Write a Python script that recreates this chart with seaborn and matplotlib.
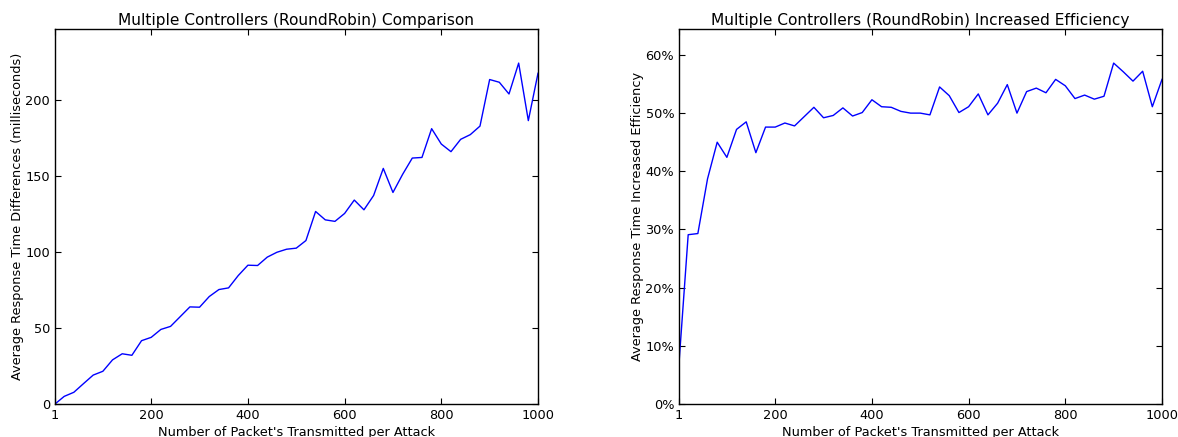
import numpy as np
import pandas as pd
import matplotlib
matplotlib.use("Agg")
import matplotlib.pyplot as plt
from matplotlib.ticker import FuncFormatter
import seaborn as sns

packets = [1] + list(range(20, 1001, 20))

diff_ms = [0.0, 5.0, 7.7, 13.4, 19.0, 21.5, 29.0, 33.0, 32.0, 41.6,
           43.8, 49.0, 51.0, 57.4, 63.8, 63.6, 70.6, 75.2, 76.3, 84.4,
           91.2, 91.0, 96.5, 99.7, 101.7, 102.4, 107.4, 126.5, 121.0, 120.0,
           125.2, 134.0, 127.6, 137.0, 154.8, 139.0, 150.9, 161.6, 162.0, 180.9,
           170.8, 165.8, 173.9, 177.0, 182.6, 213.2, 211.4, 203.7, 224.0, 186.2,
           217.3]

efficiency_pct = [7.0, 29.1, 29.3, 38.7, 45.0, 42.4, 47.2, 48.5, 43.2, 47.6,
                  47.6, 48.3, 47.8, 49.4, 51.0, 49.2, 49.6, 50.9, 49.5, 50.1,
                  52.3, 51.1, 51.0, 50.3, 50.0, 50.0, 49.7, 54.5, 53.0, 50.1,
                  51.1, 53.3, 49.7, 51.7, 54.9, 50.0, 53.7, 54.3, 53.5, 55.8,
                  54.7, 52.5, 53.1, 52.4, 52.9, 58.6, 57.1, 55.5, 57.2, 51.1,
                  55.8]

xticks = [1, 200, 400, 600, 800, 1000]

df = pd.DataFrame({"packets": packets, "diff": diff_ms, "eff": efficiency_pct})

plt.rcParams.update({
    "font.family": "DejaVu Sans",
    "xtick.direction": "in",
    "ytick.direction": "in",
    "xtick.top": True,
    "ytick.right": True,
    "xtick.major.size": 4,
    "ytick.major.size": 4,
    "axes.linewidth": 1.0,
})

fig = plt.figure(figsize=(11.78, 4.37), dpi=100)
fig.patch.set_facecolor("white")
H = 437.0
W = 1178.0
ax1 = fig.add_axes([55 / W, 1 - 404 / H, (538 - 55) / W, (404 - 29) / H])
ax2 = fig.add_axes([679 / W, 1 - 404 / H, (1162 - 679) / W, (404 - 29) / H])

sns.lineplot(data=df, x="packets", y="diff", ax=ax1, color="#0000ff", linewidth=1.0)
sns.lineplot(data=df, x="packets", y="eff", ax=ax2, color="#0000ff", linewidth=1.0)

TS = 9.3
LS = 9.3
TT = 11.1

ax1.set_xlim(1, 1000)
ax1.set_ylim(0, max(diff_ms) * 1.1)
ax1.set_xticks(xticks)
ax1.set_yticks([0, 50, 100, 150, 200])
ax1.set_title("Multiple Controllers (RoundRobin) Comparison", fontsize=TT, pad=3)
ax1.set_xlabel("Number of Packet's Transmitted per Attack", fontsize=LS, labelpad=3)
ax1.set_ylabel("Average Response Time Differences (milliseconds)", fontsize=LS, labelpad=1)

ax2.set_xlim(1, 1000)
ax2.set_ylim(0, max(efficiency_pct) * 1.1)
ax2.set_xticks(xticks)
ax2.set_yticks([0, 10, 20, 30, 40, 50, 60])
ax2.yaxis.set_major_formatter(FuncFormatter(lambda v, p: f"{v:.0f}%"))
ax2.set_title("Multiple Controllers (RoundRobin) Increased Efficiency", fontsize=TT, pad=3)
ax2.set_xlabel("Number of Packet's Transmitted per Attack", fontsize=LS, labelpad=3)
ax2.set_ylabel("Average Response Time Increased Efficiency", fontsize=LS, labelpad=1)

for ax in (ax1, ax2):
    ax.tick_params(labelsize=TS, pad=3.5)
    ax.grid(False)
    ax.set_facecolor("white")
    for s in ax.spines.values():
        s.set_color("black")

fig.savefig("out.png", dpi=100, facecolor="white")
